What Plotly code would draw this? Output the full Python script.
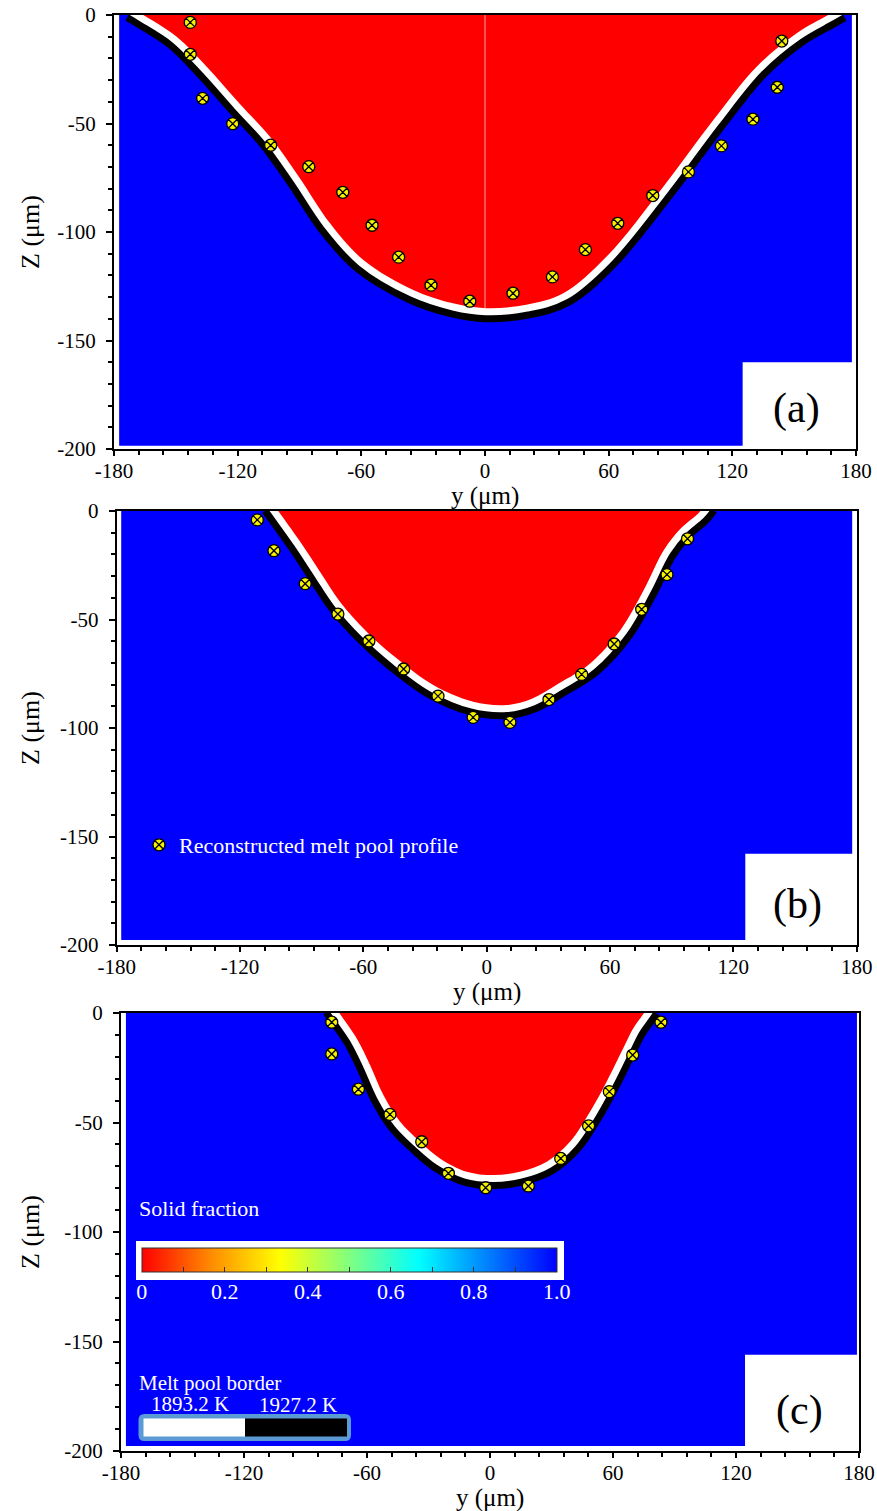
import plotly.graph_objects as go

# ---------------- data ----------------
x_tick_vals = [-180, -120, -60, 0, 60, 120, 180]
z_tick_vals = [0, -50, -100, -150, -200]
panel_labels = ["(a)", "(b)", "(c)"]

# simulation domain outline (blue region), y and Z in µm
dom_a_y = [-177.5, 178.0, 178.0, 125.0, 125.0, -177.5, -177.5]
dom_a_z = [0.0, 0.0, -160.0, -160.0, -198.5, -198.5, 0.0]
dom_b_y = [-177.8, 177.8, 177.8, 125.8, 125.8, -177.8, -177.8]
dom_b_z = [0.0, 0.0, -158.0, -158.0, -197.7, -197.7, 0.0]
dom_c_y = [-177.6, 179.0, 179.0, 124.4, 124.4, -177.6, -177.6]
dom_c_z = [0.0, 0.0, -156.0, -156.0, -197.7, -197.7, 0.0]

# melt pool (liquid, solid fraction 0) boundary
pool_a_y = [-171.0, -165.8, -149.6, -135.0, -118.9, -104.0, -90.0, -75.2, -59.0, -34.8, -15.0,
            0.5, 20.0, 38.0, 59.0, 86.5, 110.8, 131.8, 151.2, 166.5, 172.0]
pool_a_z = [3.0, 0.0, -10.0, -23.8, -41.0, -56.5, -75.0, -96.0, -112.9, -126.7, -133.0,
            -135.1, -133.5, -128.2, -111.3, -79.1, -48.4, -23.8, -8.4, 0.0, 3.0]
pool_b_y = [-103.7, -101.4, -90.8, -81.1, -71.4, -58.4, -43.8, -26.0, -6.6, 9.7, 22.0,
            35.0, 50.0, 65.1, 76.4, 86.2, 94.5, 103.0, 106.5]
pool_b_z = [3.0, 0.0, -14.1, -28.0, -41.8, -55.6, -67.9, -80.2, -87.9, -89.4, -86.5,
            -79.5, -70.5, -54.8, -36.4, -18.0, -8.0, -1.0, 3.0]
pool_c_y = [-75.7, -73.5, -65.0, -58.5, -52.0, -43.9, -34.1, -24.4, -11.4, 1.6, 14.6,
            27.7, 39.0, 48.8, 56.9, 65.0, 69.9, 74.8, 77.0]
pool_c_z = [3.0, 0.0, -11.6, -23.7, -37.4, -49.6, -58.8, -66.4, -72.5, -74.0, -72.5,
            -67.9, -58.8, -45.1, -31.4, -16.1, -7.0, -0.5, 2.5]

# reconstructed melt pool profile points
rec_a_y = [-143.0, -143.0, -137.0, -122.4, -104.0, -85.5, -69.0, -54.8, -41.9, -26.2, -7.4,
           13.6, 32.7, 48.7, 64.4, 81.4, 98.7, 114.7, 130.0, 141.8, 144.0]
rec_a_z = [-3.4, -18.1, -38.4, -50.1, -60.0, -69.9, -81.7, -96.9, -111.6, -124.5, -131.9,
           -128.2, -120.7, -108.1, -96.0, -83.2, -72.3, -60.3, -48.0, -33.3, -12.0]
rec_b_y = [-111.6, -103.5, -88.3, -72.4, -57.3, -40.4, -23.7, -6.6, 11.3, 30.3, 46.2,
           62.0, 75.4, 87.7, 97.7]
rec_b_z = [-4.1, -18.3, -33.5, -47.5, -59.9, -72.8, -85.3, -95.1, -97.4, -86.9, -75.3,
           -61.3, -45.3, -29.3, -12.8]
rec_c_y = [-77.2, -77.2, -64.2, -48.8, -33.3, -20.3, -2.1, 18.7, 34.5, 48.1, 58.2, 69.6, 83.4]
rec_c_z = [-4.2, -18.7, -34.8, -46.3, -58.8, -73.2, -79.8, -79.0, -66.4, -51.5, -35.9, -19.2, -4.2]

# centre symmetry line in (a)
sym_y = [0.0, 0.0]
sym_z = [0.0, -135.0]

# solid fraction colour bar
sf_tick_vals = [0.0, 0.1, 0.2, 0.3, 0.4, 0.5, 0.6, 0.7, 0.8, 0.9, 1.0]
sf_tick_text = ["0", "", "0.2", "", "0.4", "", "0.6", "", "0.8", "", "1.0"]
sf_colorscale = [[0.0, "#ff0000"], [0.167, "#ff8c00"], [0.333, "#ffff00"], [0.5, "#80ff80"],
                 [0.667, "#00ffff"], [0.833, "#0080ff"], [1.0, "#0000ff"]]

border_temps = ["1893.2 K", "1927.2 K"]
legend_name = "Reconstructed melt pool profile"

# ---------------- figure ----------------
W, H = 877, 1511
FONT = "Liberation Serif"


def px(x):
    return x / W


def py(y):
    return 1 - y / H


panels = [
    dict(dom=(dom_a_y, dom_a_z), pool=(pool_a_y, pool_a_z), rec=(rec_a_y, rec_a_z),
         xd=[114, 856], yd=[15, 449]),
    dict(dom=(dom_b_y, dom_b_z), pool=(pool_b_y, pool_b_z), rec=(rec_b_y, rec_b_z),
         xd=[116.7, 856.7], yd=[511, 945]),
    dict(dom=(dom_c_y, dom_c_z), pool=(pool_c_y, pool_c_z), rec=(rec_c_y, rec_c_z),
         xd=[121, 859], yd=[1013, 1451]),
]

fig = go.Figure()
layout = {}
annotations = []
SPL = dict(shape="spline", smoothing=1.0)


def txt(text, x, y, size=22, color="white", xanchor="center", angle=0):
    return dict(text=text, x=px(x), y=py(y), xref="paper", yref="paper", xanchor=xanchor,
                yanchor="middle", textangle=angle, showarrow=False,
                font=dict(family=FONT, size=size, color=color))


for i, p in enumerate(panels, start=1):
    xa = "x" if i == 1 else f"x{i}"
    ya = "y" if i == 1 else f"y{i}"
    # blue (solid) domain
    fig.add_trace(go.Scatter(x=p["dom"][0], y=p["dom"][1], mode="lines", fill="toself",
                             fillcolor="#0000ff", line=dict(width=0, color="#0000ff"),
                             hoverinfo="skip", showlegend=False, xaxis=xa, yaxis=ya))
    # melt pool border bands (black outer, white inner)
    fig.add_trace(go.Scatter(x=p["pool"][0], y=p["pool"][1], mode="lines",
                             line=dict(color="black", width=28, **SPL),
                             hoverinfo="skip", showlegend=False, xaxis=xa, yaxis=ya))
    fig.add_trace(go.Scatter(x=p["pool"][0], y=p["pool"][1], mode="lines",
                             line=dict(color="white", width=14, **SPL),
                             hoverinfo="skip", showlegend=False, xaxis=xa, yaxis=ya))
    # liquid (red)
    fig.add_trace(go.Scatter(x=p["pool"][0], y=p["pool"][1], mode="lines", fill="toself",
                             fillcolor="#ff0000",
                             line=dict(width=0, color="#ff0000", **SPL),
                             hoverinfo="skip", showlegend=False, xaxis=xa, yaxis=ya))
    if i == 1:
        fig.add_trace(go.Scatter(x=sym_y, y=sym_z, mode="lines",
                                 line=dict(color="rgba(255,185,185,0.9)", width=1),
                                 hoverinfo="skip", showlegend=False, xaxis=xa, yaxis=ya))
    # reconstructed profile
    fig.add_trace(go.Scatter(x=p["rec"][0], y=p["rec"][1], mode="markers",
                             marker=dict(symbol="circle-x", size=12, color="#f5f000",
                                         line=dict(color="black", width=1.3)),
                             name=legend_name, showlegend=(i == 2), xaxis=xa, yaxis=ya))

    xdom = [px(p["xd"][0]), px(p["xd"][1])]
    ydom = [py(p["yd"][1]), py(p["yd"][0])]
    common_x = dict(range=[-180, 180], tickmode="array", tickvals=x_tick_vals, automargin=False,
                    showgrid=False, zeroline=False, tickcolor="black", tickwidth=2)
    common_y = dict(range=[-200, 0], tickmode="array", tickvals=z_tick_vals, automargin=False,
                    showgrid=False, zeroline=False, tickcolor="black", tickwidth=2)
    layout[f"xaxis{i}"] = dict(common_x, domain=xdom, anchor=f"y{i}", ticks="outside", ticklen=5,
                               ticktext=[str(v) for v in x_tick_vals], showline=True,
                               linecolor="black", linewidth=2, mirror=True,
                               ticklabelstandoff=-3,
                               tickfont=dict(family=FONT, size=21, color="black"),
                               minor=dict(tick0=-180, dtick=12, ticks="outside", ticklen=4,
                                          tickcolor="black", tickwidth=2))
    layout[f"yaxis{i}"] = dict(common_y, domain=ydom, anchor=f"x{i}", ticks="outside", ticklen=6,
                               ticktext=[str(v) for v in z_tick_vals], showline=True,
                               linecolor="black", linewidth=2, mirror=True,
                               ticklabelstandoff=6,
                               tickfont=dict(family=FONT, size=21, color="black"),
                               minor=dict(tick0=0, dtick=10, ticks="outside", ticklen=4,
                                          tickcolor="black", tickwidth=2))
    # overlay axes for ticks crossing the axis line
    layout[f"xaxis{i+3}"] = dict(common_x, overlaying=f"x{i}", anchor=f"y{i}", side="bottom",
                                 ticks="inside", ticklen=5, showticklabels=False, showline=False,
                                 minor=dict(tick0=-180, dtick=12, ticks="inside", ticklen=4,
                                            tickcolor="black", tickwidth=2))
    layout[f"yaxis{i+3}"] = dict(common_y, overlaying=f"y{i}", anchor=f"x{i}", side="left",
                                 ticks="inside", ticklen=6, showticklabels=False, showline=False,
                                 minor=dict(tick0=0, dtick=10, ticks="inside", ticklen=4,
                                            tickcolor="black", tickwidth=2))

    # panel label
    annotations.append(dict(text=panel_labels[i - 1], x=151, y=-181.5, xref=xa, yref=ya,
                            xanchor="center", yanchor="middle",
                            showarrow=False, font=dict(family=FONT, size=42, color="black")))
    # axis titles
    annotations.append(txt("Z (μm)", 30, (p["yd"][0] + p["yd"][1]) / 2, size=26,
                           color="black", angle=-90))
    xc = (p["xd"][0] + p["xd"][1]) / 2
    annotations.append(txt("y (μm)", xc, p["yd"][1] + 47, size=25, color="black"))

# solid fraction colour bar (panel c)
fig.add_trace(go.Scatter(x=[None], y=[None], mode="markers", showlegend=False, hoverinfo="skip",
                         xaxis="x3", yaxis="y3",
                         marker=dict(color=[0.5], cmin=0, cmax=1, colorscale=sf_colorscale,
                                     showscale=True,
                                     colorbar=dict(orientation="h", x=px(141.7), xanchor="left",
                                                   y=py(1248.3), yanchor="top",
                                                   len=415, lenmode="pixels",
                                                   thickness=24, thicknessmode="pixels",
                                                   xpad=0, ypad=0, outlinewidth=1,
                                                   outlinecolor="#333333",
                                                   bgcolor="rgba(0,0,0,0)",
                                                   tickmode="array", tickvals=sf_tick_vals,
                                                   ticktext=sf_tick_text, ticks="inside",
                                                   ticklen=5, tickcolor="#333333",
                                                   tickfont=dict(family=FONT, size=22,
                                                                 color="white")))))


def rounded_rect(x0, y0, x1, y1, r):
    X = lambda v: px(v)
    Y = lambda v: py(v)
    return (f"M {X(x0 + r)} {Y(y0)} L {X(x1 - r)} {Y(y0)} Q {X(x1)} {Y(y0)} {X(x1)} {Y(y0 + r)} "
            f"L {X(x1)} {Y(y1 - r)} Q {X(x1)} {Y(y1)} {X(x1 - r)} {Y(y1)} "
            f"L {X(x0 + r)} {Y(y1)} Q {X(x0)} {Y(y1)} {X(x0)} {Y(y1 - r)} "
            f"L {X(x0)} {Y(y0 + r)} Q {X(x0)} {Y(y0)} {X(x0 + r)} {Y(y0)} Z")


shapes = [
    # white frame around colour bar
    dict(type="rect", xref="paper", yref="paper", x0=px(136), x1=px(564), y0=py(1280), y1=py(1241),
         fillcolor="white", line=dict(width=0), layer="above"),
    # melt pool border legend
    dict(type="path", xref="paper", yref="paper", path=rounded_rect(138.5, 1414, 351, 1441, 6),
         fillcolor="#5b9bd5", line=dict(width=0), layer="above"),
    dict(type="rect", xref="paper", yref="paper", x0=px(143.5), x1=px(245), y0=py(1436.5),
         y1=py(1418.5), fillcolor="white", line=dict(width=0), layer="above"),
    dict(type="rect", xref="paper", yref="paper", x0=px(245), x1=px(347), y0=py(1436.5),
         y1=py(1418.5), fillcolor="black", line=dict(width=0), layer="above"),
]

annotations += [
    txt("Solid fraction", 137, 1208, xanchor="left"),
    txt("Melt pool border", 137, 1383, xanchor="left", size=21),
    txt(border_temps[0], 190, 1404, size=21),
    txt(border_temps[1], 298, 1405, size=21),
]

fig.update_layout(
    width=W, height=H, margin=dict(l=0, r=0, t=0, b=0, pad=0, autoexpand=False),
    paper_bgcolor="white", plot_bgcolor="white",
    font=dict(family=FONT, color="black"),
    showlegend=True,
    legend=dict(x=px(139), y=py(845), xanchor="left", yanchor="middle",
                bgcolor="rgba(0,0,0,0)", borderwidth=0, itemwidth=30,
                font=dict(family=FONT, size=22, color="white")),
    annotations=annotations, shapes=shapes,
    **layout,
)

fig.write_html("out.html", config={"displayModeBar": False},
               post_script="document.body.style.margin='0';")
